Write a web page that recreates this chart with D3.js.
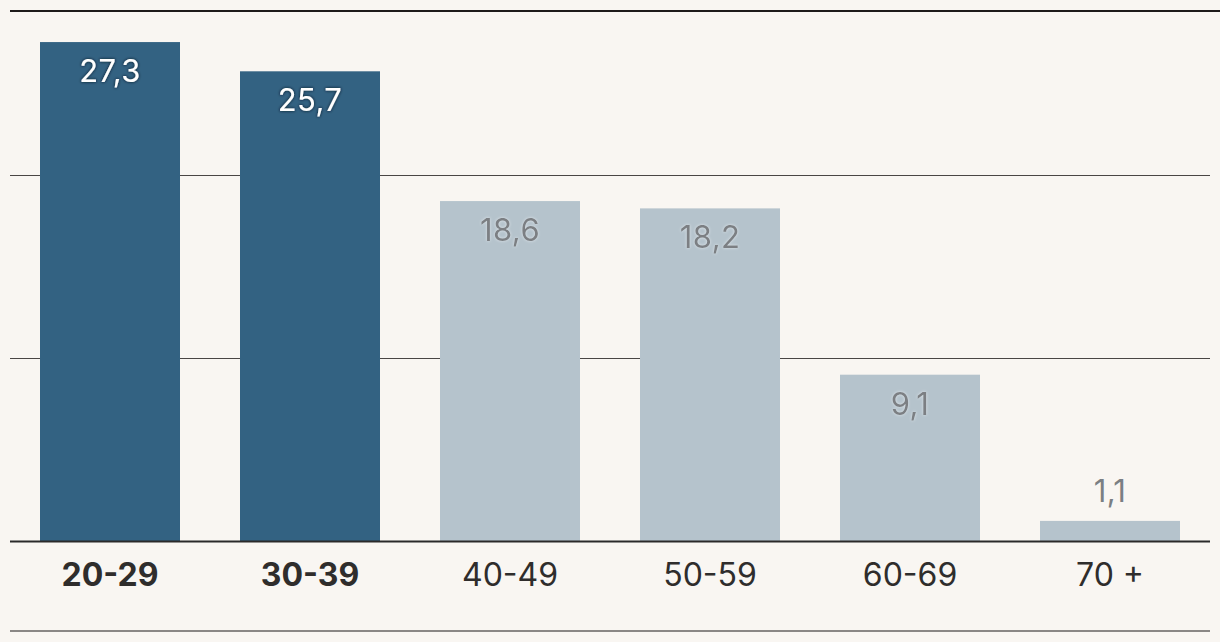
<!DOCTYPE html>
<html><head><meta charset="utf-8">
<script src="https://cdn.jsdelivr.net/npm/d3@7"></script>
<style>
html,body{margin:0;padding:0;background:#f9f6f2;}
svg{display:block;}
</style></head>
<body>
<svg id="chart" width="1220" height="642"></svg>
<script>
const categories = ["20-29","30-39","40-49","50-59","60-69","70 +"];
const values = [27.3, 25.7, 18.6, 18.2, 9.1, 1.1];
const highlighted = [true, true, false, false, false, false];
const gridTicks = [10, 20];
const yMax = 29;

(function(){
const W = 1220, H = 642;
const mLeft = 10, mRight = 1210, mTop = 11, base = 541;
const svg = d3.select("#chart");
svg.append("rect").attr("width", W).attr("height", H).attr("fill", "#f9f6f2");

const x = d3.scaleBand().domain(categories).range([mLeft, mRight]).paddingInner(0.3).paddingOuter(0.15);
const y = d3.scaleLinear().domain([0, yMax]).range([base, mTop]);

// gridlines
svg.append("g").selectAll("line").data(gridTicks).join("line")
  .attr("x1", mLeft).attr("x2", mRight)
  .attr("y1", d => Math.round(y(d)) + 0.5).attr("y2", d => Math.round(y(d)) + 0.5)
  .attr("stroke", "#4a4644").attr("stroke-width", 1);

// top border
svg.append("line").attr("x1", mLeft).attr("x2", W).attr("y1", y(yMax)).attr("y2", y(yMax))
  .attr("stroke", "#1e1b1a").attr("stroke-width", 2);

// bars
const data = categories.map((c, i) => ({c, v: values[i], hi: highlighted[i]}));
svg.append("g").selectAll("rect").data(data).join("rect")
  .attr("x", d => x(d.c)).attr("width", x.bandwidth())
  .attr("y", d => y(d.v)).attr("height", d => base - y(d.v))
  .attr("fill", d => d.hi ? "#336282" : "#b5c3cc");

// baseline
svg.append("line").attr("x1", mLeft).attr("x2", mRight).attr("y1", base + 0.5).attr("y2", base + 0.5)
  .attr("stroke", "#2b2a2a").attr("stroke-width", 2);

// bottom rule
svg.append("line").attr("x1", mLeft).attr("x2", mRight).attr("y1", 631).attr("y2", 631)
  .attr("stroke", "#8a8785").attr("stroke-width", 2);

// defs for shadows
const defs = svg.append("defs");
const f1 = defs.append("filter").attr("id", "darkShadow").attr("x", "-20%").attr("y", "-30%").attr("width", "140%").attr("height", "160%");
f1.append("feDropShadow").attr("dx", 0).attr("dy", 0).attr("stdDeviation", 1.5).attr("flood-color", "#061520").attr("flood-opacity", 1);
const f2 = defs.append("filter").attr("id", "lightShadow").attr("x", "-20%").attr("y", "-30%").attr("width", "140%").attr("height", "160%");
f2.append("feDropShadow").attr("dx", 0).attr("dy", 0).attr("stdDeviation", 1.5).attr("flood-color", "#e4eaee").attr("flood-opacity", 0.9);

// value labels
const fmt = v => d3.format(".1f")(v).replace(".", ",");
svg.append("g").selectAll("text").data(data).join("text")
  .attr("x", d => x(d.c) + x.bandwidth() / 2)
  .attr("y", d => (base - y(d.v)) > 60 ? y(d.v) + 40 : y(d.v) - 19)
  .attr("text-anchor", "middle")
  .attr("font-family", "Inter, 'Liberation Sans', Arial, sans-serif")
  .attr("font-size", 31)
  .attr("letter-spacing", 0.4)
  .attr("fill", d => d.hi ? "#ffffff" : "#7b7f83")
  .attr("filter", d => d.hi ? "url(#darkShadow)" : ((base - y(d.v)) > 60 ? "url(#lightShadow)" : null))
  .text(d => fmt(d.v));

// category labels
svg.append("g").selectAll("text").data(data).join("text")
  .attr("x", d => x(d.c) + x.bandwidth() / 2)
  .attr("y", 586)
  .attr("text-anchor", "middle")
  .attr("font-family", "Inter, 'Liberation Sans', Arial, sans-serif")
  .attr("font-size", 32)
  .attr("font-weight", d => d.hi ? "bold" : "normal")
  .attr("fill", "#2f2d2c")
  .text(d => d.c);
})();
</script>
</body></html>
